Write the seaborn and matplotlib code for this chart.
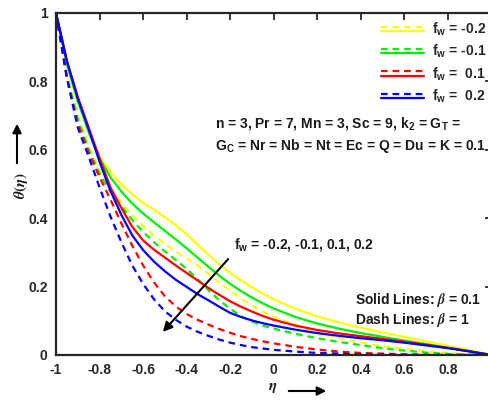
import numpy as np
import pandas as pd
import matplotlib
matplotlib.use("Agg")
import matplotlib.pyplot as plt
from matplotlib.lines import Line2D
from matplotlib.patches import FancyArrowPatch
from matplotlib.legend_handler import HandlerBase
import seaborn as sns

# ---- data -------------------------------------------------------------
eta = [-1.0, -0.95, -0.9, -0.85, -0.8, -0.75, -0.7, -0.65, -0.6, -0.55,
       -0.5, -0.45, -0.4, -0.35, -0.3, -0.25, -0.2, -0.15, -0.1, -0.05,
       0.0, 0.1, 0.2, 0.3, 0.4, 0.5, 0.6, 0.7, 0.8, 0.9, 1.0]

fw_values = [-0.2, -0.1, 0.1, 0.2]
fw_labels = ["-0.2", "-0.1", " 0.1", " 0.2"]

# beta = 0.1 (solid lines)
theta_b01_m02 = [1, 0.855, 0.745, 0.655, 0.58, 0.535, 0.50, 0.47, 0.445, 0.425,
                 0.403, 0.38, 0.353, 0.323, 0.293, 0.265, 0.24, 0.218, 0.198, 0.18,
                 0.163, 0.135, 0.113, 0.095, 0.08, 0.066, 0.053, 0.04, 0.027, 0.014, 0]
theta_b01_m01 = [1, 0.85, 0.742, 0.652, 0.575, 0.52, 0.478, 0.443, 0.414, 0.388,
                 0.363, 0.338, 0.312, 0.285, 0.258, 0.232, 0.208, 0.187, 0.168, 0.151,
                 0.136, 0.111, 0.092, 0.077, 0.064, 0.053, 0.042, 0.032, 0.021, 0.011, 0]
theta_b01_p01 = [1, 0.86, 0.755, 0.665, 0.575, 0.49, 0.43, 0.375, 0.335, 0.308,
                 0.285, 0.262, 0.24, 0.218, 0.196, 0.176, 0.157, 0.141, 0.127, 0.114,
                 0.103, 0.086, 0.073, 0.063, 0.055, 0.047, 0.039, 0.03, 0.021, 0.011, 0]
theta_b01_p02 = [1, 0.86, 0.75, 0.66, 0.565, 0.48, 0.41, 0.35, 0.307, 0.273,
                 0.245, 0.22, 0.199, 0.178, 0.16, 0.141, 0.123, 0.111, 0.101, 0.093,
                 0.086, 0.074, 0.064, 0.056, 0.049, 0.043, 0.036, 0.028, 0.02, 0.01, 0]

# beta = 1 (dashed lines)
theta_b1_m02 = [1, 0.82, 0.70, 0.61, 0.54, 0.487, 0.445, 0.41, 0.378, 0.35,
                0.325, 0.303, 0.283, 0.262, 0.238, 0.212, 0.188, 0.165, 0.145, 0.127,
                0.112, 0.088, 0.066, 0.049, 0.036, 0.026, 0.018, 0.011, 0.006, 0.002, 0]
theta_b1_m01 = [1, 0.815, 0.69, 0.60, 0.53, 0.478, 0.435, 0.395, 0.36, 0.33,
                0.303, 0.278, 0.252, 0.222, 0.19, 0.16, 0.135, 0.114, 0.098, 0.086,
                0.077, 0.062, 0.049, 0.038, 0.029, 0.02, 0.013, 0.007, 0.003, 0.001, 0]
theta_b1_p01 = [1, 0.81, 0.675, 0.592, 0.52, 0.455, 0.385, 0.32, 0.262, 0.212,
                0.172, 0.142, 0.12, 0.103, 0.089, 0.076, 0.065, 0.055, 0.047, 0.04,
                0.034, 0.024, 0.016, 0.01, 0.006, 0.004, 0.002, 0.001, 0, 0, 0]
theta_b1_p02 = [1, 0.81, 0.665, 0.58, 0.49, 0.405, 0.33, 0.262, 0.208, 0.163,
                0.128, 0.103, 0.083, 0.068, 0.056, 0.045, 0.036, 0.029, 0.023, 0.019,
                0.015, 0.01, 0.006, 0.004, 0.002, 0.001, 0.0005, 0, 0, 0, 0]

x_ticks = [-1, -0.8, -0.6, -0.4, -0.2, 0, 0.2, 0.4, 0.6, 0.8]
x_tick_labels = ["-1", "-0.8", "-0.6", "-0.4", "-0.2", "0", "0.2", "0.4", "0.6", "0.8"]
y_ticks = [0, 0.2, 0.4, 0.6, 0.8, 1]
y_tick_labels = ["0", "0.2", "0.4", "0.6", "0.8", "1"]

solid_series = [theta_b01_m02, theta_b01_m01, theta_b01_p01, theta_b01_p02]
dashed_series = [theta_b1_m02, theta_b1_m01, theta_b1_p01, theta_b1_p02]

rows = []
for fw, ys in zip(fw_values, solid_series):
    for x, y in zip(eta, ys):
        rows.append({"eta": x, "theta": y, "fw": fw, "beta": "0.1"})
for fw, ys in zip(fw_values, dashed_series):
    for x, y in zip(eta, ys):
        rows.append({"eta": x, "theta": y, "fw": fw, "beta": "1"})
df = pd.DataFrame(rows)

# ---- style ------------------------------------------------------------
sns.set_style("white")
plt.rcParams["font.family"] = ["Liberation Sans", "DejaVu Sans"]
plt.rcParams["font.weight"] = "bold"
plt.rcParams["mathtext.fontset"] = "stix"
plt.rcParams["axes.unicode_minus"] = False

palette = {-0.2: "#FFFF00", -0.1: "#00EE00", 0.1: "#FF0000", 0.2: "#0000FF"}
dash_map = {"0.1": "", "1": (3, 2.2)}

W, H = 488, 403
fig = plt.figure(figsize=(W / 100, H / 100), dpi=100)
ax = fig.add_axes([56 / W, 48 / H, 435.6 / W, 342 / H])

sns.lineplot(data=df, x="eta", y="theta", hue="fw", style="beta",
             palette=palette, dashes=dash_map, linewidth=1.6,
             legend=False, sort=True, estimator=None, ax=ax)

ax.set_xlim(-1, 1)
ax.set_ylim(0, 1)
ax.set_xticks(x_ticks)
ax.set_xticklabels(x_tick_labels)
ax.set_yticks(y_ticks)
ax.set_yticklabels(y_tick_labels)
ax.set_xlabel("")
ax.set_ylabel("")

axis_col = "#262626"
for side in ["left", "bottom", "top", "right"]:
    ax.spines[side].set_visible(True)
    ax.spines[side].set_color(axis_col)
    ax.spines[side].set_linewidth(1.6)
ax.tick_params(direction="in", length=5, width=1.3, color=axis_col,
               top=True, right=True, labelsize=10, labelcolor=axis_col, pad=6)
for lab in ax.get_xticklabels() + ax.get_yticklabels():
    lab.set_fontweight("bold")


# ---- legend: dashed over solid for each f_w ---------------------------
class PairHandler(HandlerBase):
    def create_artists(self, legend, orig_handle, xdescent, ydescent,
                       width, height, fontsize, trans):
        dashed, solid = orig_handle
        y_top = height * 0.75 - ydescent
        y_bot = height * 0.30 - ydescent
        l1 = Line2D([-xdescent, width - xdescent], [y_top, y_top],
                    color=dashed.get_color(), linestyle=(0, (3, 2.2)),
                    linewidth=1.6, transform=trans)
        l2 = Line2D([-xdescent, width - xdescent], [y_bot, y_bot],
                    color=solid.get_color(), linestyle="-",
                    linewidth=1.6, transform=trans)
        return [l1, l2]


handles = []
labels = []
for fw, lab in zip(fw_values, fw_labels):
    c = palette[fw]
    handles.append((Line2D([], [], color=c, linestyle="--"),
                    Line2D([], [], color=c, linestyle="-")))
    labels.append("f$_\\mathregular{w}$ = " + lab)

leg = fig.legend(handles, labels, handler_map={tuple: PairHandler()},
                 loc="upper left", bbox_to_anchor=(381 / W, 1 - 21 / H),
                 frameon=False, fontsize=10, handlelength=3.1,
                 handletextpad=0.55, labelspacing=0.38, borderpad=0,
                 borderaxespad=0)
for t in leg.get_texts():
    t.set_fontweight("bold")

# ---- annotations ------------------------------------------------------
txt_kw = dict(fontsize=10, fontweight="bold", color="#1a1a1a")
fig.text(215 / W, 1 - 123 / H,
         "n = 3, Pr = 7, Mn = 3, Sc = 9, k$_\\mathregular{2}$ = G$_\\mathregular{T}$ =",
         va="center", ha="left", **txt_kw)
fig.text(215 / W, 1 - 146 / H,
         "G$_\\mathregular{C}$ = Nr = Nb = Nt = Ec = Q = Du = K = 0.1",
         va="center", ha="left", **txt_kw)
fig.text(234 / W, 1 - 245 / H,
         "f$_\\mathregular{w}$ = -0.2, -0.1, 0.1, 0.2",
         va="center", ha="left", **txt_kw)
fig.text(355 / W, 1 - 300 / H, "Solid Lines: $\\beta$ = 0.1",
         va="center", ha="left", **txt_kw)
fig.text(355 / W, 1 - 320 / H, "Dash Lines: $\\beta$ = 1",
         va="center", ha="left", **txt_kw)

# direction of increasing f_w
fig.add_artist(FancyArrowPatch(
    (230 / W, 1 - 257 / H), (161 / W, 1 - 334 / H),
    transform=fig.transFigure, arrowstyle="-|>", mutation_scale=14,
    color="black", linewidth=1.5))

# axis labels with arrows
fig.text(21 / W, 1 - 186 / H, "$\\theta(\\eta)$", rotation=90,
         ha="center", va="center", fontsize=11, color="#1a1a1a")
fig.add_artist(FancyArrowPatch(
    (17 / W, 1 - 166 / H), (17 / W, 1 - 121 / H),
    transform=fig.transFigure, arrowstyle="-|>", mutation_scale=13,
    color="black", linewidth=1.5))
fig.text(273 / W, 1 - 388 / H, "$\\eta$", ha="center", va="center",
         fontsize=11, color="#1a1a1a")
fig.add_artist(FancyArrowPatch(
    (286 / W, 1 - 391 / H), (329 / W, 1 - 391 / H),
    transform=fig.transFigure, arrowstyle="-|>", mutation_scale=13,
    color="black", linewidth=1.5))

fig.savefig("out.png", dpi=100)
